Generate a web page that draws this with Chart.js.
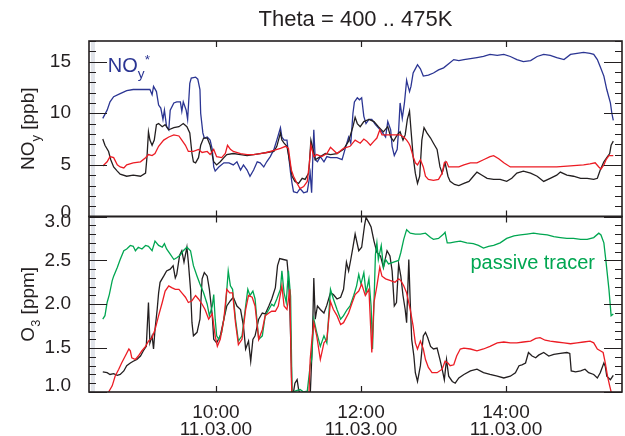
<!DOCTYPE html>
<html>
<head>
<meta charset="utf-8">
<title>Theta = 400 .. 475K</title>
<script src="https://cdn.jsdelivr.net/npm/chart.js@4.4.1/dist/chart.umd.min.js"></script>
<style>
  html, body { margin: 0; padding: 0; background: #fff; }
  #wrap { width: 625px; height: 436px; }
</style>
</head>
<body>
<div id="wrap"><canvas id="flightChart" width="625" height="436"></canvas></div>
<script>
// ---- data: [time in hours UTC, value] ----
const titleText = 'Theta = 400 .. 475K';
const flightDate = '11.03.00';
const timeTicks = [10, 12, 14];
const noyTicks = [0, 5, 10, 15];
const o3Ticks = [1.0, 1.5, 2.0, 2.5, 3.0];

// NOy* (blue)
const noyStar = [
  [8.44, 9.5], [8.50, 10.3], [8.54, 11.1], [8.59, 11.6], [8.68, 11.9], [8.77, 12.2], [8.86, 12.3], [8.96, 12.3],
  [9.05, 12.3], [9.09, 12.3], [9.12, 11.8], [9.14, 12.6], [9.18, 12.1], [9.21, 10.8], [9.24, 10.5], [9.27, 9.4],
  [9.29, 10.3], [9.32, 8.7], [9.35, 8.4], [9.37, 10.3], [9.42, 11.0], [9.46, 11.1], [9.51, 11.1], [9.53, 10.2],
  [9.55, 11.1], [9.59, 10.3], [9.61, 9.4], [9.64, 12.9], [9.66, 13.4], [9.72, 13.5], [9.75, 13.3], [9.78, 12.3],
  [9.79, 10.0], [9.82, 8.1], [9.84, 7.6], [9.88, 7.7], [9.92, 7.4], [9.95, 6.5], [9.97, 4.8], [9.99, 4.4],
  [10.04, 4.8], [10.11, 5.2], [10.18, 5.2], [10.24, 5.0], [10.29, 5.3], [10.34, 4.5], [10.38, 5.0], [10.43, 4.5],
  [10.47, 3.9], [10.52, 4.5], [10.57, 5.3], [10.61, 5.2], [10.66, 4.8], [10.70, 5.3], [10.75, 5.8], [10.80, 6.5],
  [10.84, 7.4], [10.89, 8.6], [10.91, 7.7], [10.94, 7.4], [10.98, 7.4], [11.00, 6.1], [11.03, 4.2], [11.05, 3.2],
  [11.07, 2.4], [11.12, 2.3], [11.16, 2.7], [11.21, 2.3], [11.26, 2.4], [11.30, 4.2], [11.32, 2.3], [11.35, 8.4],
  [11.37, 5.5], [11.40, 5.3], [11.44, 5.8], [11.49, 5.3], [11.53, 5.8], [11.58, 5.7], [11.67, 5.7], [11.74, 5.5],
  [11.78, 6.5], [11.83, 7.7], [11.86, 7.1], [11.89, 10.0], [11.91, 11.1], [11.95, 11.5], [11.98, 11.3], [12.01, 11.5],
  [12.04, 9.7], [12.07, 9.0], [12.11, 9.4], [12.15, 9.4], [12.20, 8.9], [12.24, 8.6], [12.29, 8.2], [12.34, 7.7],
  [12.37, 9.2], [12.41, 8.4], [12.43, 6.8], [12.46, 5.9], [12.50, 6.5], [12.52, 8.4], [12.54, 11.0], [12.57, 9.5],
  [12.60, 11.0], [12.63, 13.2], [12.64, 12.9], [12.67, 12.1], [12.69, 12.6], [12.72, 13.9], [12.75, 14.3], [12.78, 14.7],
  [12.82, 14.3], [12.86, 13.6], [12.93, 13.7], [13.00, 13.9], [13.07, 14.2], [13.14, 14.4], [13.21, 14.8], [13.28, 15.2],
  [13.35, 15.1], [13.42, 15.2], [13.51, 15.3], [13.60, 15.4], [13.69, 15.5], [13.78, 15.7], [13.88, 15.6], [13.97, 15.7],
  [14.06, 15.5], [14.15, 15.2], [14.24, 15.0], [14.34, 15.1], [14.43, 15.5], [14.52, 15.7], [14.61, 15.6], [14.70, 15.4],
  [14.80, 15.2], [14.89, 15.7], [14.98, 15.8], [15.07, 15.9], [15.16, 15.8], [15.21, 15.7], [15.26, 15.2], [15.30, 14.5],
  [15.35, 13.6], [15.39, 12.3], [15.44, 11.0], [15.46, 10.0], [15.48, 9.3]
];

// NOy measured (black)
const noyMeasured = [
  [8.44, 7.5], [8.47, 6.9], [8.52, 6.3], [8.55, 5.5], [8.59, 4.8], [8.64, 4.4], [8.68, 4.1], [8.77, 3.9],
  [8.86, 4.0], [8.96, 3.9], [9.03, 4.2], [9.05, 5.8], [9.07, 8.2], [9.09, 7.4], [9.12, 6.9], [9.15, 7.4],
  [9.18, 8.9], [9.21, 9.0], [9.26, 8.7], [9.30, 8.9], [9.35, 8.4], [9.42, 8.6], [9.49, 8.7], [9.55, 9.0],
  [9.60, 8.7], [9.64, 8.1], [9.67, 6.1], [9.69, 5.3], [9.72, 5.2], [9.76, 5.7], [9.79, 6.9], [9.83, 7.6],
  [9.88, 7.6], [9.92, 6.9], [9.97, 5.3], [10.01, 5.0], [10.06, 5.3], [10.11, 5.7], [10.15, 6.0], [10.24, 6.1],
  [10.34, 6.0], [10.43, 5.9], [10.52, 6.0], [10.61, 6.1], [10.70, 6.2], [10.80, 6.3], [10.84, 6.8], [10.89, 8.1],
  [10.91, 7.4], [10.94, 7.1], [10.98, 6.8], [11.02, 5.2], [11.05, 3.9], [11.09, 3.4], [11.14, 3.2], [11.19, 3.7],
  [11.23, 3.6], [11.28, 4.2], [11.31, 7.4], [11.34, 6.5], [11.37, 5.5], [11.44, 5.8], [11.51, 6.1], [11.58, 6.0],
  [11.67, 6.1], [11.76, 6.5], [11.83, 7.3], [11.89, 8.7], [11.92, 9.6], [11.95, 9.0], [11.99, 8.7], [12.04, 9.2],
  [12.11, 9.4], [12.18, 9.2], [12.24, 8.7], [12.31, 8.2], [12.37, 8.7], [12.41, 7.7], [12.45, 7.3], [12.50, 7.9],
  [12.54, 8.2], [12.58, 7.4], [12.61, 7.9], [12.64, 9.4], [12.67, 10.2], [12.69, 8.4], [12.72, 5.8], [12.75, 4.2],
  [12.78, 3.2], [12.81, 3.9], [12.84, 7.4], [12.87, 8.6], [12.91, 8.1], [12.96, 7.6], [13.00, 7.1], [13.05, 6.5],
  [13.09, 4.8], [13.12, 4.2], [13.16, 5.2], [13.20, 3.9], [13.23, 3.4], [13.29, 3.1], [13.35, 3.0], [13.42, 3.2],
  [13.49, 3.4], [13.55, 3.9], [13.60, 4.3], [13.67, 4.0], [13.74, 3.7], [13.83, 3.6], [13.92, 3.6], [14.01, 3.4],
  [14.08, 3.7], [14.15, 4.2], [14.24, 4.4], [14.34, 4.2], [14.43, 3.9], [14.52, 3.4], [14.61, 3.7], [14.70, 4.0],
  [14.75, 4.3], [14.84, 4.0], [14.93, 3.9], [15.03, 3.7], [15.12, 3.7], [15.21, 3.6], [15.26, 3.7], [15.30, 4.5],
  [15.35, 5.3], [15.39, 5.7], [15.43, 6.1], [15.45, 6.9], [15.48, 7.3]
];

// NOy from correlation (red)
const noyModel = [
  [8.44, 4.9], [8.50, 5.3], [8.54, 5.8], [8.59, 5.7], [8.64, 5.0], [8.68, 4.8], [8.73, 4.7], [8.77, 5.0],
  [8.86, 5.2], [8.96, 5.3], [9.03, 5.7], [9.07, 6.0], [9.12, 5.9], [9.16, 6.1], [9.21, 6.8], [9.28, 7.4],
  [9.35, 7.7], [9.42, 7.9], [9.49, 7.8], [9.53, 7.4], [9.58, 6.9], [9.62, 6.3], [9.69, 6.3], [9.76, 6.5],
  [9.81, 6.2], [9.88, 6.3], [9.92, 6.0], [9.97, 6.5], [10.01, 5.8], [10.08, 5.7], [10.13, 6.1], [10.16, 6.9],
  [10.20, 6.5], [10.24, 6.3], [10.34, 6.1], [10.43, 6.0], [10.52, 6.0], [10.61, 6.1], [10.70, 6.2], [10.80, 6.4],
  [10.89, 6.6], [10.96, 6.8], [11.00, 6.6], [11.04, 4.5], [11.07, 3.9], [11.12, 3.2], [11.16, 2.7], [11.21, 2.9],
  [11.26, 3.4], [11.29, 5.2], [11.31, 6.9], [11.35, 5.8], [11.39, 6.0], [11.46, 5.8], [11.53, 6.1], [11.58, 6.7],
  [11.67, 6.1], [11.76, 6.6], [11.85, 6.8], [11.92, 7.4], [11.99, 7.1], [12.04, 7.5], [12.08, 7.3], [12.13, 6.9],
  [12.18, 7.3], [12.22, 7.6], [12.26, 8.4], [12.29, 7.9], [12.36, 7.9], [12.45, 7.9], [12.54, 7.9], [12.59, 7.7],
  [12.63, 7.4], [12.66, 7.1], [12.68, 6.8], [12.72, 5.8], [12.75, 5.2], [12.78, 5.0], [12.82, 5.5], [12.86, 4.8],
  [12.89, 3.9], [12.93, 3.6], [13.00, 3.5], [13.07, 3.6], [13.12, 4.2], [13.15, 5.2], [13.18, 5.3], [13.21, 4.8],
  [13.26, 4.8], [13.35, 4.8], [13.42, 5.0], [13.51, 5.2], [13.60, 5.2], [13.69, 5.5], [13.78, 5.8], [13.83, 5.9],
  [13.90, 5.6], [13.97, 5.2], [14.06, 4.8], [14.15, 4.8], [14.34, 4.8], [14.52, 4.8], [14.70, 4.8], [14.89, 4.9],
  [15.07, 5.0], [15.16, 5.1], [15.23, 5.2], [15.28, 4.8], [15.31, 4.6], [15.35, 5.0], [15.38, 5.5], [15.42, 5.9],
  [15.48, 5.9]
];

// O3 measured (black)
const o3Measured = [
  [8.44, 1.23], [8.50, 1.22], [8.54, 1.20], [8.59, 1.21], [8.64, 1.19], [8.68, 1.20], [8.73, 1.24], [8.77, 1.30],
  [8.82, 1.33], [8.86, 1.35], [8.91, 1.37], [8.96, 1.41], [9.00, 1.47], [9.04, 1.52], [9.07, 2.02], [9.09, 1.56],
  [9.12, 1.64], [9.14, 1.49], [9.16, 1.71], [9.19, 1.94], [9.21, 2.13], [9.23, 2.25], [9.28, 2.32], [9.32, 2.38],
  [9.37, 2.40], [9.41, 2.44], [9.44, 2.30], [9.46, 2.34], [9.50, 2.56], [9.53, 2.61], [9.56, 2.48], [9.60, 2.65],
  [9.62, 2.48], [9.65, 2.17], [9.67, 1.79], [9.69, 1.64], [9.74, 1.68], [9.78, 1.83], [9.81, 2.29], [9.84, 2.36],
  [9.88, 2.32], [9.91, 2.17], [9.95, 1.87], [9.97, 1.60], [10.01, 1.56], [10.06, 1.64], [10.11, 1.83], [10.15, 1.98],
  [10.20, 2.04], [10.24, 2.08], [10.29, 1.98], [10.34, 1.94], [10.38, 1.75], [10.41, 1.49], [10.45, 1.58], [10.48, 1.35],
  [10.51, 1.60], [10.54, 1.64], [10.59, 1.83], [10.64, 1.90], [10.68, 1.89], [10.73, 1.98], [10.77, 2.06], [10.82, 2.19],
  [10.85, 2.44], [10.88, 2.52], [10.93, 2.51], [10.98, 2.50], [11.00, 2.32], [11.02, 1.94], [11.04, 1.33], [11.05, 0.90],
  [11.09, 1.10], [11.12, 1.14], [11.14, 1.03], [11.19, 0.90], [11.26, 0.90], [11.30, 0.95], [11.33, 1.56], [11.35, 2.30],
  [11.37, 1.83], [11.40, 1.98], [11.44, 1.94], [11.49, 1.90], [11.53, 1.99], [11.58, 2.13], [11.62, 2.11], [11.67, 2.06],
  [11.72, 2.08], [11.76, 2.17], [11.80, 2.48], [11.83, 2.38], [11.86, 2.51], [11.89, 2.65], [11.92, 2.80], [11.97, 2.61],
  [12.01, 2.65], [12.05, 2.90], [12.07, 2.99], [12.11, 2.93], [12.14, 2.88], [12.18, 2.72], [12.22, 2.59], [12.27, 2.55],
  [12.31, 2.42], [12.36, 2.61], [12.40, 2.55], [12.43, 2.38], [12.46, 1.98], [12.49, 2.02], [12.52, 2.46], [12.55, 2.32],
  [12.58, 2.10], [12.61, 1.94], [12.63, 1.79], [12.66, 2.51], [12.68, 2.02], [12.70, 1.60], [12.73, 1.41], [12.75, 1.22],
  [12.78, 1.12], [12.82, 1.30], [12.86, 1.64], [12.89, 1.68], [12.92, 1.62], [12.96, 1.52], [13.00, 1.49], [13.05, 1.50],
  [13.09, 1.37], [13.12, 1.26], [13.15, 1.14], [13.18, 1.37], [13.21, 1.18], [13.26, 1.12], [13.30, 1.10], [13.35, 1.16],
  [13.42, 1.20], [13.51, 1.24], [13.60, 1.26], [13.69, 1.22], [13.78, 1.20], [13.88, 1.18], [13.97, 1.16], [14.06, 1.18],
  [14.13, 1.22], [14.18, 1.30], [14.22, 1.31], [14.27, 1.33], [14.31, 1.45], [14.36, 1.41], [14.41, 1.39], [14.45, 1.42],
  [14.52, 1.45], [14.59, 1.41], [14.66, 1.43], [14.75, 1.44], [14.84, 1.45], [14.88, 1.44], [14.90, 1.24], [14.96, 1.23],
  [15.03, 1.24], [15.09, 1.26], [15.14, 1.22], [15.21, 1.20], [15.26, 1.16], [15.30, 1.22], [15.35, 1.33], [15.37, 1.29],
  [15.39, 1.18], [15.44, 1.14], [15.48, 1.19]
];

// O3 from correlation (red)
const o3Model = [
  [8.52, 1.00], [8.57, 1.07], [8.61, 1.18], [8.66, 1.26], [8.70, 1.33], [8.75, 1.41], [8.80, 1.49], [8.82, 1.47],
  [8.84, 1.39], [8.89, 1.37], [8.93, 1.41], [8.98, 1.47], [9.03, 1.52], [9.07, 1.58], [9.12, 1.62], [9.16, 1.71],
  [9.21, 1.87], [9.26, 2.02], [9.30, 2.15], [9.35, 2.21], [9.39, 2.19], [9.44, 2.17], [9.49, 2.17], [9.53, 2.13],
  [9.58, 2.08], [9.62, 2.02], [9.67, 2.04], [9.72, 2.10], [9.76, 2.06], [9.81, 2.00], [9.85, 1.94], [9.90, 1.83],
  [9.95, 1.89], [9.99, 1.64], [10.02, 1.52], [10.06, 1.60], [10.11, 1.83], [10.15, 2.17], [10.19, 2.13], [10.23, 2.13],
  [10.27, 1.79], [10.31, 1.54], [10.36, 1.60], [10.41, 1.94], [10.45, 2.10], [10.50, 2.08], [10.54, 1.98], [10.59, 1.60],
  [10.64, 1.71], [10.68, 1.87], [10.73, 1.90], [10.77, 1.92], [10.82, 1.92], [10.86, 1.98], [10.91, 2.21], [10.94, 1.98],
  [10.98, 1.94], [11.02, 2.17], [11.04, 1.18], [11.05, 0.90], [11.28, 0.90], [11.30, 1.37], [11.32, 1.56], [11.35, 1.79],
  [11.39, 1.64], [11.44, 1.37], [11.49, 1.56], [11.53, 1.60], [11.58, 2.03], [11.62, 1.94], [11.67, 1.87], [11.72, 1.77],
  [11.76, 1.79], [11.83, 1.90], [11.88, 2.02], [11.92, 2.11], [11.97, 2.15], [12.01, 2.23], [12.06, 2.10], [12.11, 2.17],
  [12.15, 1.45], [12.18, 2.02], [12.22, 2.21], [12.26, 2.42], [12.29, 2.32], [12.34, 2.29], [12.41, 2.27], [12.47, 2.25],
  [12.52, 2.29], [12.55, 2.27], [12.59, 2.21], [12.63, 2.13], [12.68, 1.94], [12.72, 1.75], [12.75, 1.56], [12.78, 1.49],
  [12.82, 1.58], [12.86, 1.49], [12.89, 1.37], [12.93, 1.28], [12.98, 1.22], [13.05, 1.22], [13.12, 1.26], [13.16, 1.35],
  [13.20, 1.33], [13.23, 1.30], [13.28, 1.31], [13.32, 1.41], [13.37, 1.49], [13.42, 1.50], [13.51, 1.49], [13.60, 1.47],
  [13.69, 1.49], [13.78, 1.52], [13.88, 1.56], [13.97, 1.57], [14.06, 1.56], [14.15, 1.56], [14.24, 1.57], [14.34, 1.58],
  [14.41, 1.61], [14.47, 1.62], [14.54, 1.59], [14.61, 1.58], [14.70, 1.57], [14.80, 1.56], [14.89, 1.55], [14.98, 1.56],
  [15.07, 1.57], [15.16, 1.58], [15.21, 1.56], [15.26, 1.49], [15.30, 1.47], [15.34, 1.45], [15.37, 1.33], [15.40, 1.18],
  [15.43, 1.07], [15.46, 0.97]
];

// passive tracer (green)
const o3Passive = [
  [8.44, 1.83], [8.47, 1.87], [8.50, 2.02], [8.53, 2.11], [8.57, 2.27], [8.59, 2.32], [8.64, 2.42], [8.68, 2.51],
  [8.73, 2.61], [8.77, 2.63], [8.82, 2.67], [8.86, 2.66], [8.89, 2.61], [8.93, 2.65], [8.98, 2.63], [9.03, 2.67],
  [9.07, 2.66], [9.12, 2.61], [9.16, 2.72], [9.21, 2.67], [9.26, 2.65], [9.29, 2.69], [9.32, 2.63], [9.37, 2.57],
  [9.42, 2.51], [9.46, 2.53], [9.51, 2.56], [9.55, 2.61], [9.60, 2.65], [9.65, 2.61], [9.69, 2.44], [9.74, 2.32],
  [9.78, 2.23], [9.83, 2.13], [9.88, 2.00], [9.91, 1.87], [9.95, 1.98], [9.97, 2.11], [9.99, 1.83], [10.01, 1.64],
  [10.04, 1.60], [10.08, 1.68], [10.13, 1.94], [10.17, 2.38], [10.20, 2.21], [10.23, 2.17], [10.27, 1.83], [10.31, 1.58],
  [10.36, 1.64], [10.41, 1.98], [10.44, 2.17], [10.47, 2.10], [10.51, 2.15], [10.54, 2.06], [10.59, 1.60], [10.64, 1.64],
  [10.68, 1.87], [10.73, 1.94], [10.77, 2.00], [10.80, 1.98], [10.84, 2.06], [10.89, 2.17], [10.91, 2.38], [10.94, 2.13],
  [10.97, 2.02], [11.00, 2.38], [11.03, 2.09], [11.05, 0.99], [11.09, 1.01], [11.16, 1.03], [11.21, 1.00], [11.26, 1.01],
  [11.30, 1.30], [11.32, 1.37], [11.35, 1.83], [11.39, 1.68], [11.44, 1.52], [11.49, 1.64], [11.53, 1.56], [11.58, 2.17],
  [11.62, 2.06], [11.67, 1.94], [11.72, 1.83], [11.76, 1.87], [11.81, 1.94], [11.85, 1.98], [11.90, 2.10], [11.94, 2.21],
  [11.97, 2.34], [12.00, 2.23], [12.04, 2.36], [12.07, 2.13], [12.11, 2.29], [12.14, 1.98], [12.16, 1.49], [12.18, 2.02],
  [12.20, 2.57], [12.22, 2.70], [12.24, 2.51], [12.28, 2.67], [12.31, 2.42], [12.34, 2.51], [12.38, 2.46], [12.45, 2.48],
  [12.52, 2.50], [12.55, 2.59], [12.59, 2.74], [12.63, 2.85], [12.68, 2.81], [12.75, 2.80], [12.82, 2.80], [12.89, 2.81],
  [12.96, 2.76], [13.00, 2.74], [13.07, 2.75], [13.14, 2.80], [13.16, 2.82], [13.19, 2.70], [13.23, 2.70], [13.30, 2.71],
  [13.37, 2.72], [13.46, 2.70], [13.55, 2.69], [13.62, 2.67], [13.69, 2.64], [13.76, 2.66], [13.83, 2.67], [13.92, 2.70],
  [14.01, 2.75], [14.11, 2.78], [14.20, 2.79], [14.29, 2.80], [14.38, 2.81], [14.47, 2.80], [14.57, 2.79], [14.66, 2.77],
  [14.75, 2.76], [14.84, 2.75], [14.93, 2.75], [15.03, 2.74], [15.12, 2.74], [15.21, 2.76], [15.28, 2.81], [15.31, 2.79],
  [15.35, 2.70], [15.38, 2.48], [15.42, 2.17], [15.45, 1.87], [15.48, 1.89]
];

// ---- drawing ----
const FONT = "'Liberation Sans', Arial, Helvetica, sans-serif";
const INK = '#231f20';
const BLUE = '#2b3593';
const RED = '#ec1c24';
const GREEN = '#00a651';

Chart.defaults.font.family = FONT;
Chart.defaults.color = INK;

const toXY = arr => arr.map(p => ({ x: p[0], y: p[1] }));

function series(data, color, axis) {
  return { data: toXY(data), borderColor: color, yAxisID: axis, borderWidth: 1.3, pointRadius: 0, tension: 0, fill: false };
}

// text with sub/superscripts, left aligned on the baseline at (x0, 0)
function richWidth(ctx, parts, size) {
  let w = 0;
  parts.forEach(p => {
    ctx.font = ((p.sub || p.sup) ? size * 0.68 : size) + 'px ' + FONT;
    w += ctx.measureText(p.text).width;
  });
  return w;
}
function drawRich(ctx, parts, size, x0) {
  let x = x0;
  parts.forEach(p => {
    const s = (p.sub || p.sup) ? size * 0.68 : size;
    ctx.font = s + 'px ' + FONT;
    const dy = p.sub ? size * 0.32 : (p.sup ? -size * 0.42 : 0);
    ctx.fillText(p.text, x, dy);
    x += ctx.measureText(p.text).width;
  });
}

// edge labels are nudged into their own panel so "0" and "3.0" don't collide:
// a blank line above/below shifts a label by half a line height
function edgeLabel(text, v, min, max) {
  if (v === min) return [text, ''];
  if (v === max) return ['', text];
  return text;
}
function edgeFont(ctx, min, max, shiftMin, shiftMax) {
  const v = ctx.tick ? ctx.tick.value : null;
  let lh = 1.2;
  if (v === min) lh = (2 * shiftMin) / 19;
  if (v === max) lh = (2 * shiftMax) / 19;
  return { size: 19, lineHeight: lh };
}

const panelFrames = {
  id: 'panelFrames',
  beforeDatasetsDraw(chart) {
    // faint strip along the inner left edge of both panels
    const { ctx } = chart;
    const xs = chart.scales.x;
    ctx.save();
    ctx.fillStyle = '#e1e4ea';
    ctx.fillRect(xs.left + 2, chart.scales.noy.top, 4, chart.scales.o3.bottom - chart.scales.noy.top);
    ctx.restore();
  },
  afterDraw(chart) {
    const { ctx } = chart;
    const xs = chart.scales.x;
    const panels = [
      { id: 'noy', major: noyTicks, step: 1 },
      { id: 'o3', major: o3Ticks, step: 0.1 }
    ];
    ctx.save();
    ctx.strokeStyle = INK;
    panels.forEach(p => {
      const ys = chart.scales[p.id];
      const l = xs.left, r = xs.right, t = ys.top, b = ys.bottom;
      ctx.lineWidth = 1.6;
      ctx.strokeRect(l, t, r - l, b - t);
      ctx.lineWidth = 1.2;
      ctx.beginPath();
      const n = Math.round((ys.max - ys.min) / p.step);
      for (let i = 0; i <= n; i++) {
        const v = ys.min + i * p.step;
        const isMajor = p.major.some(m => Math.abs(m - v) < 1e-6);
        const len = isMajor ? 18 : 7;
        const y = Math.round(ys.getPixelForValue(v)) + 0.5;
        ctx.moveTo(l, y); ctx.lineTo(l + len, y);
        ctx.moveTo(r, y); ctx.lineTo(r - len, y);
      }
      timeTicks.forEach(h => {
        const x = Math.round(xs.getPixelForValue(h)) + 0.5;
        ctx.moveTo(x, t); ctx.lineTo(x, t + 6);
        ctx.moveTo(x, b); ctx.lineTo(x, b - 6);
      });
      ctx.stroke();
    });

    // title, centred over the plot area
    ctx.fillStyle = INK;
    ctx.textAlign = 'center';
    ctx.textBaseline = 'alphabetic';
    ctx.font = '22px ' + FONT;
    ctx.fillText(titleText, (xs.left + xs.right) / 2, 26);

    // axis titles
    ctx.textAlign = 'left';
    const titles = [
      { id: 'noy', parts: [{ text: 'NO' }, { text: 'y', sub: true }, { text: ' [ppb]' }] },
      { id: 'o3', parts: [{ text: 'O' }, { text: '3', sub: true }, { text: ' [ppm]' }] }
    ];
    titles.forEach(tt => {
      const ys = chart.scales[tt.id];
      const w = richWidth(ctx, tt.parts, 19);
      ctx.save();
      ctx.translate(34, (ys.top + ys.bottom) / 2);
      ctx.rotate(-Math.PI / 2);
      drawRich(ctx, tt.parts, 19, -w / 2);
      ctx.restore();
    });

    // curve labels
    const yTop = chart.scales.noy, yBot = chart.scales.o3;
    ctx.save();
    ctx.fillStyle = BLUE;
    ctx.translate(xs.getPixelForValue(8.51), yTop.getPixelForValue(14.0));
    drawRich(ctx, [{ text: 'NO' }, { text: 'y', sub: true }, { text: '*', sup: true }], 20, 0);
    ctx.restore();
    ctx.save();
    ctx.fillStyle = GREEN;
    ctx.translate(xs.getPixelForValue(13.51), yBot.getPixelForValue(2.40));
    drawRich(ctx, [{ text: 'passive tracer' }], 20, 0);
    ctx.restore();
    ctx.restore();
  }
};

const yCommon = {
  type: 'linear',
  position: 'left',
  stack: 'panels',
  stackWeight: 1,
  grid: { display: false },
  border: { display: false },
  afterFit: s => { s.width = 89; }
};

const ctx = document.getElementById('flightChart').getContext('2d');
new Chart(ctx, {
  type: 'line',
  data: {
    datasets: [
      series(noyModel, RED, 'noy'),
      series(noyMeasured, INK, 'noy'),
      series(noyStar, BLUE, 'noy'),
      series(o3Model, RED, 'o3'),
      series(o3Passive, GREEN, 'o3'),
      series(o3Measured, INK, 'o3')
    ]
  },
  options: {
    responsive: false,
    animation: false,
    devicePixelRatio: 1,
    layout: { padding: { left: 0, right: 3, top: 41, bottom: 0 } },
    plugins: {
      legend: { display: false },
      tooltip: { enabled: false },
      title: { display: false }
    },
    scales: {
      x: {
        type: 'linear',
        position: 'bottom',
        min: 8.25,
        max: 15.6,
        grid: { display: false },
        border: { display: false },
        afterBuildTicks: s => { s.ticks = timeTicks.map(v => ({ value: v })); },
        afterFit: s => { s.height = 44; },
        ticks: {
          autoSkip: false,
          maxRotation: 0,
          padding: 4,
          color: INK,
          font: { size: 19, lineHeight: 0.9 },
          callback: v => [String(v).padStart(2, '0') + ':00', flightDate]
        }
      },
      // lower panel first: stacked boxes are laid out bottom-up
      o3: Object.assign({}, yCommon, {
        min: 1.0,
        max: 3.0,
        afterBuildTicks: s => { s.ticks = o3Ticks.map(v => ({ value: v })); },
        ticks: {
          autoSkip: false, padding: 10, color: INK,
          font: c => edgeFont(c, 1.0, 3.0, 6, 5),
          callback: v => edgeLabel(Number(v).toFixed(1), v, 1.0, 3.0)
        }
      }),
      noy: Object.assign({}, yCommon, {
        min: 0,
        max: 17,
        afterBuildTicks: s => { s.ticks = noyTicks.map(v => ({ value: v })); },
        ticks: {
          autoSkip: false, padding: 10, color: INK,
          font: c => edgeFont(c, 0, 17, 4, 0),
          callback: v => edgeLabel(String(v), v, 0, 17)
        }
      })
    }
  },
  plugins: [panelFrames]
});
</script>
</body>
</html>
